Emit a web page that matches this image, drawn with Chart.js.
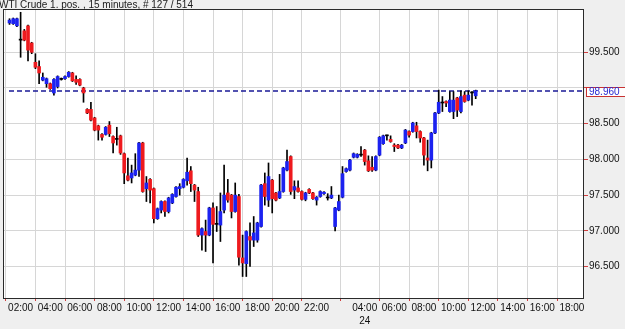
<!DOCTYPE html>
<html><head><meta charset="utf-8">
<script src="https://cdn.jsdelivr.net/npm/chart.js@4.4.1/dist/chart.umd.min.js"></script>
<style>html,body{margin:0;padding:0;background:#efefef;overflow:hidden}#wrap{position:relative;width:625px;height:329px}</style>
</head><body><div id="wrap"><canvas id="c" width="625" height="329"></canvas></div>
<script>
const chartTitle = 'WTI Crude 1. pos. , 15 minutes, # 127 / 514';

const opens = [99.91,99.90,99.87,99.68,99.80,99.87,99.63,99.36,99.30,99.11,99.06,99.06,98.93,99.02,99.13,99.13,99.16,99.21,99.12,99.12,
99.00,98.70,98.70,98.58,98.47,98.35,98.35,98.48,98.32,98.29,98.33,98.08,97.77,97.74,97.78,97.85,98.23,97.59,97.72,97.59,
97.17,97.29,97.41,97.27,97.39,97.48,97.59,97.61,97.70,97.84,97.64,97.55,96.94,96.99,96.94,97.32,97.10,97.08,97.29,97.53,
97.50,97.27,97.48,96.62,96.54,96.92,96.87,96.87,97.06,97.66,97.43,97.71,97.53,97.46,97.55,97.85,98.04,97.57,97.60,97.55,
97.44,97.58,97.53,97.43,97.48,97.52,97.46,97.46,97.06,97.29,97.47,97.83,97.85,98.03,98.03,98.06,98.13,97.98,97.89,97.85,
98.06,98.22,98.33,98.28,98.20,98.20,98.16,98.23,98.39,98.39,98.47,98.39,98.30,98.02,97.99,98.37,98.65,98.79,98.81,98.67,
98.67,98.86,98.67,98.90,98.83,98.93,98.89];
const highs = [99.97,99.98,99.98,100.06,99.82,99.88,99.64,99.48,99.38,99.21,99.14,99.07,99.13,99.17,99.14,99.17,99.23,99.22,99.17,99.13,
99.01,98.71,98.80,98.59,98.48,98.36,98.46,98.53,98.33,98.45,98.34,98.09,98.02,97.92,98.08,98.24,98.24,97.76,97.73,97.60,
97.32,97.42,97.42,97.47,97.52,97.62,97.66,97.73,98.02,97.90,97.65,97.61,97.04,97.15,97.33,97.39,97.34,97.53,97.92,97.72,
97.51,97.67,97.51,96.94,97.00,97.11,97.20,97.12,97.65,97.81,97.95,97.72,97.54,97.79,97.89,98.13,98.05,97.70,97.70,97.56,
97.54,97.59,97.54,97.48,97.56,97.55,97.52,97.62,97.33,97.50,97.90,97.88,98.00,98.09,98.08,98.18,98.14,98.05,98.04,98.05,
98.32,98.34,98.34,98.33,98.22,98.21,98.21,98.42,98.40,98.52,98.52,98.40,98.31,98.27,98.38,98.66,98.97,98.88,98.82,98.95,
98.95,98.87,98.96,98.95,98.96,98.95,98.97];
const lows = [99.89,99.89,99.86,99.43,99.66,99.38,99.48,99.27,99.06,99.10,99.01,98.98,98.90,99.00,99.11,99.12,99.15,99.09,99.05,99.03,
98.80,98.64,98.54,98.40,98.27,98.27,98.34,98.32,98.09,98.20,98.07,97.66,97.70,97.67,97.77,97.76,97.54,97.41,97.39,97.11,
97.16,97.25,97.20,97.25,97.38,97.47,97.50,97.60,97.64,97.55,97.41,96.92,96.73,96.71,96.93,96.55,96.99,96.85,97.25,97.40,
97.18,97.26,96.52,96.36,96.36,96.50,96.78,96.84,97.05,97.36,97.34,97.25,97.42,97.45,97.54,97.84,97.51,97.45,97.54,97.43,
97.42,97.52,97.44,97.36,97.47,97.51,97.43,97.45,97.00,97.28,97.46,97.82,97.84,98.02,98.02,98.04,97.92,97.83,97.83,97.84,
98.05,98.21,98.27,98.24,98.11,98.15,98.15,98.22,98.31,98.38,98.30,98.24,97.92,97.84,97.88,98.36,98.64,98.67,98.74,98.66,
98.57,98.60,98.65,98.80,98.82,98.76,98.85];
const closes = [99.95,99.97,99.97,99.67,99.67,99.53,99.50,99.29,99.21,99.15,99.13,98.99,99.12,99.16,99.12,99.16,99.22,99.10,99.08,99.04,
98.93,98.65,98.55,98.41,98.41,98.31,98.45,98.36,98.23,98.28,98.09,97.81,97.71,97.81,97.85,98.23,97.55,97.67,97.57,97.17,
97.31,97.41,97.27,97.46,97.51,97.61,97.62,97.72,97.82,97.66,97.57,96.94,97.03,96.94,97.32,97.09,97.09,97.27,97.50,97.43,
97.27,97.50,96.63,96.55,96.99,96.87,96.97,97.11,97.64,97.48,97.76,97.45,97.43,97.55,97.88,97.97,97.55,97.62,97.55,97.44,
97.53,97.53,97.45,97.47,97.55,97.54,97.47,97.50,97.32,97.41,97.80,97.87,97.99,98.08,98.07,98.06,97.97,97.84,97.85,98.04,
98.31,98.33,98.33,98.25,98.18,98.16,98.20,98.41,98.34,98.51,98.39,98.30,98.06,97.99,98.37,98.65,98.80,98.79,98.79,98.83,
98.83,98.69,98.88,98.81,98.90,98.93,98.96];

const tickIndex  = [3,11,19,27,35,43,51,59,67,75,83,96,104,112,120,128,136,144,152];
const tickLabels = ['02:00','04:00','06:00','08:00','10:00','12:00','14:00','16:00','18:00','20:00','22:00',
                    '04:00','06:00','08:00','10:00','12:00','14:00','16:00','18:00'];
const tickDays   = ['','','','','','','','','','','','24','','','','','','',''];
const yTicks = [96.5,97,97.5,98,98.5,99,99.5];
const lastPrice = 98.96;

const UP='#1c22f0', DOWN='#ee1a1e', FLAT='#000000';
const bodyColors = opens.map((o,i)=>{const d=closes[i]-o; return Math.abs(d)<0.015?FLAT:(d>0?UP:DOWN);});
const FONT = {family:'"Liberation Sans", Arial, sans-serif', size:10, lineHeight:1.3};

const decor = {
  id:'decor',
  beforeDraw(chart){
    const {ctx, chartArea:a} = chart;
    ctx.save();
    ctx.fillStyle='#efefef'; ctx.fillRect(0,0,chart.width,chart.height);
    ctx.fillStyle='#ffffff'; ctx.fillRect(a.left,a.top,a.right-a.left,a.bottom-a.top);
    ctx.restore();
  },
  beforeDatasetsDraw(chart){
    const {ctx, chartArea:a, scales:{y}} = chart;
    const py = Math.round(y.getPixelForValue(lastPrice));
    ctx.save();
    ctx.strokeStyle='#1a1a96'; ctx.lineWidth=1.6; ctx.setLineDash([5,3]);
    ctx.beginPath(); ctx.moveTo(a.left+5,py); ctx.lineTo(a.right,py); ctx.stroke();
    ctx.restore();
  },
  afterDraw(chart){
    const {ctx, chartArea:a, scales:{y}} = chart;
    ctx.save();
    ctx.strokeStyle='#2a2a2a'; ctx.lineWidth=1;
    ctx.strokeRect(a.left-0.5,a.top-0.5,a.right-a.left,a.bottom-a.top+1);
    const py = Math.round(y.getPixelForValue(lastPrice));
    ctx.fillStyle='#ffffff'; ctx.fillRect(a.right+2,py-4,40,10);
    ctx.strokeStyle='#c83232'; ctx.strokeRect(a.right+2.5,py-3.5,40,9);
    ctx.fillStyle='#2828d0'; ctx.font='10px "Liberation Sans", Arial, sans-serif';
    ctx.textBaseline='middle'; ctx.textAlign='left';
    ctx.fillText(lastPrice.toFixed(3), a.right+5, py+1);
    ctx.fillStyle='#1a1a1a'; ctx.textBaseline='alphabetic';
    ctx.fillText(chartTitle, -1, 8);
    ctx.restore();
  }
};

new Chart(document.getElementById('c'), {
  type:'bar',
  data:{datasets:[
    {label:'wick', data: lows.map((l,i)=>({x:i,y:[l,highs[i]]})), backgroundColor:'#000', barThickness:1, grouped:false, order:2, borderWidth:0},
    {label:'body', data: opens.map((o,i)=>({x:i,y:[o,closes[i]]})), backgroundColor: bodyColors, barThickness:3, minBarLength:1, grouped:false, order:1, borderWidth:0}
  ]},
  options:{
    responsive:false, animation:false, devicePixelRatio:1,
    layout:{padding:{left:4,top:10,right:0,bottom:0}},
    plugins:{legend:{display:false}, tooltip:{enabled:false}, title:{display:false}},
    scales:{
      x:{type:'linear', offset:false, min:-1.49, max:155.27,
        afterBuildTicks:s=>{s.ticks = tickIndex.map(v=>({value:v}));},
        afterFit:s=>{s.height=31;},
        ticks:{autoSkip:false, maxRotation:0, minRotation:0, padding:1, color:'#111', font:FONT,
          callback:(v)=>{const k=tickIndex.indexOf(v); if(k<0) return ''; return tickDays[k]?[tickLabels[k],tickDays[k]]:tickLabels[k];}},
        grid:{color:'#d6d6d6', tickColor:'#d04040', tickLength:3},
        border:{display:false}
      },
      y:{position:'right', min:96.059, max:100.092,
        afterBuildTicks:s=>{s.ticks = yTicks.map(v=>({value:v}));},
        afterFit:s=>{s.width=41;},
        ticks:{padding:1, color:'#111', font:FONT,
          callback:(v)=> Math.abs(v-lastPrice)<0.08 ? '' : Number(v).toFixed(3)},
        grid:{color:'#d6d6d6', tickColor:'#d04040', tickLength:4},
        border:{display:false}
      }
    }
  },
  plugins:[decor]
});
</script></body></html>
